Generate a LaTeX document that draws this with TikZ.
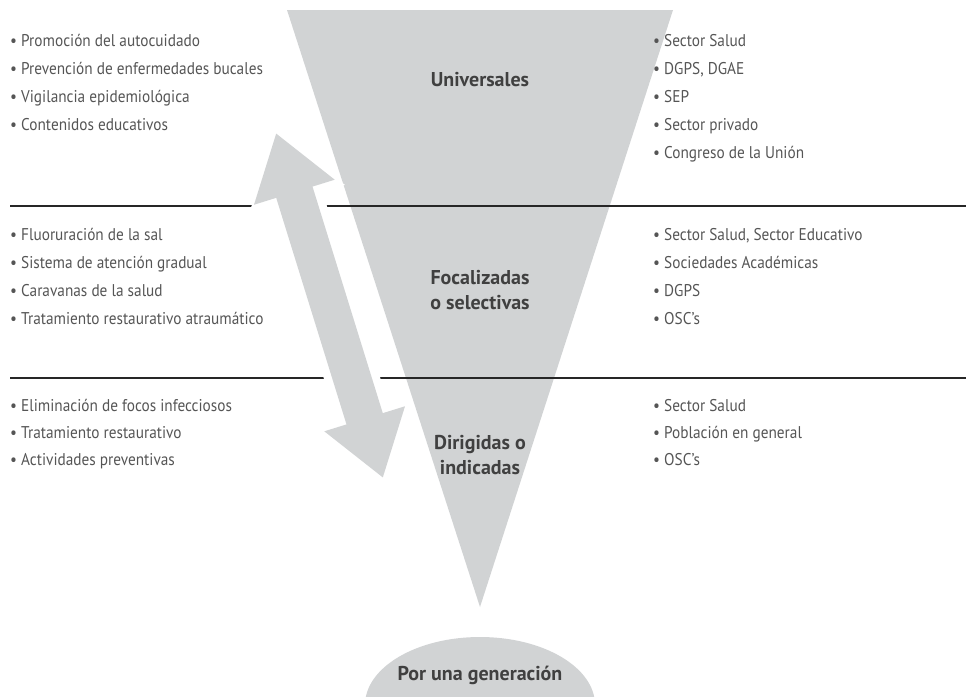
\documentclass[tikz,border=0pt]{standalone}
\usepackage{fontspec}
\setmainfont{PT Sans}
\newfontfamily\listfont[FakeStretch=0.9]{PT Sans}
\usepackage{tikz}
\usetikzlibrary{positioning,arrows.meta}
\definecolor{fondo}{HTML}{D1D3D4}
\definecolor{letra}{HTML}{555555}
\definecolor{titulo}{HTML}{404040}

\begin{document}
\begin{tikzpicture}[x=1pt, y=-1pt,
    item/.style={anchor=west, inner sep=0pt, text height=12pt, text depth=4pt,
      font=\listfont\fontsize{17}{20}\selectfont, text=letra},
    nivel/.style={align=center, font=\bfseries\fontsize{20}{25}\selectfont, text=titulo},
    raya/.style={line width=1.2pt, black!85},
    flecha/.style={line width=#1}]
    \useasboundingbox (0,0) rectangle (966,696);

    \coordinate (tl) at (287,10);
    \coordinate (tr) at (673,10);
    \coordinate (ap) at (480,607);
    \fill[fondo] (tl) -- (tr) -- (ap) -- cycle;
    \fill[fondo] (480,705) ellipse [x radius=115pt, y radius=68pt];

    \coordinate (r1a) at (10,206);
    \coordinate (r1b) at (966,206);
    \coordinate (r2a) at (10,378);
    \coordinate (r2b) at (966,378);
    \draw[raya] (r1a) -- (r1b);
    \draw[raya] (r2a) -- (r2b);

    \coordinate (fa) at (276,133);
    \coordinate (fb) at (383,478);
    \draw[white, flecha=54pt, {Triangle[width=96pt,length=70pt]}-{Triangle[width=96pt,length=70pt]}] (fa) -- (fb);
    \draw[fondo, flecha=38pt, {Triangle[width=80pt,length=62pt]}-{Triangle[width=80pt,length=62pt]}] (fa) -- (fb);

    \node[nivel] (uni) at (480,80) {Universales};
    \node[nivel] (foc) at (480,290) {Focalizadas\\o selectivas};
    \node[nivel] (dir) at (480,455) {Dirigidas o\\indicadas};
    \node[nivel] (gen) at (480,675) {Por una generación};

    \foreach \t [count=\i] in {Promoción del autocuidado, Prevención de enfermedades bucales,
        Vigilancia epidemiológica, Contenidos educativos}
      \node[item] (u\i) at (10,14+28*\i) {• \t};
    \foreach \t [count=\i] in {Sector Salud, {DGPS, DGAE}, SEP, Sector privado, Congreso de la Unión}
      \node[item] (ua\i) at (653,14+28*\i) {• \t};

    \foreach \t [count=\i] in {Fluoruración de la sal, Sistema de atención gradual,
        Caravanas de la salud, Tratamiento restaurativo atraumático}
      \node[item] (f\i) at (10,208+28*\i) {• \t};
    \foreach \t [count=\i] in {{Sector Salud, Sector Educativo}, Sociedades Académicas, DGPS, OSC’s}
      \node[item] (fa\i) at (653,208+28*\i) {• \t};

    \foreach \t [count=\i] in {Eliminación de focos infecciosos, Tratamiento restaurativo,
        Actividades preventivas}
      \node[item] (d\i) at (10,380+27*\i) {• \t};
    \foreach \t [count=\i] in {Sector Salud, Población en general, OSC’s}
      \node[item] (da\i) at (653,380+27*\i) {• \t};
\end{tikzpicture}
\end{document}
